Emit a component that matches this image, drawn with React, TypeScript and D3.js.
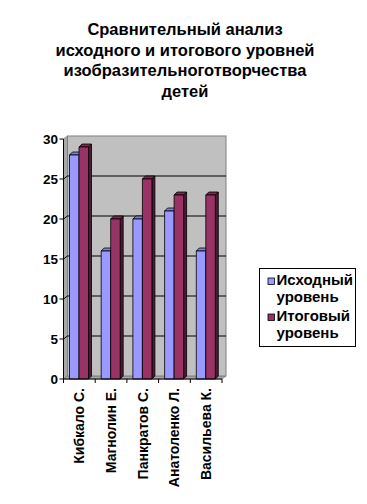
import React from "react";
import * as d3 from "d3";

const categories = ["Кибкало С.", "Магнолин Е.", "Панкратов С.", "Анатоленко Л.", "Васильева К."];
const seriesNames = ["Исходный уровень", "Итоговый уровень"];
const initialLevel = [28, 16, 20, 21, 16];
const finalLevel = [29, 20, 25, 23, 23];
const yTicks = [0, 5, 10, 15, 20, 25, 30];
const titleLines = [
  "Сравнительный анализ",
  "исходного и итогового уровней",
  "изобразительноготворчества",
  "детей",
];

const colors = [
  { front: "#9999FF", top: "#8080e0", side: "#5c5c99" },
  { front: "#993366", top: "#80294f", side: "#4c1933" },
];

export default function App() {
  const W = 367, H = 504;
  const font = "'Liberation Sans', Arial, sans-serif";
  const y = d3.scaleLinear().domain([0, 30]).range([379, 139]);
  const x0 = d3.scaleBand<string>().domain(categories).range([63.5, 222]);
  const x1 = d3.scaleBand<string>().domain(seriesNames).range([6, 25]);
  const dx = 3, dy = -3; // bar depth
  const wx = 4, wy = -3; // wall depth
  const left = 63.5, right = 222;
  const bottom = y(0), top = y(30);
  const data = [initialLevel, finalLevel];

  return (
    <svg width={W} height={H} style={{ position: "absolute", left: 0, top: 0 }} fontFamily={font}>
      <rect width={W} height={H} fill="#fff" />
      {titleLines.map((t, i) => (
        <text key={i} x={185} y={35 + i * 20.5} textAnchor="middle" fontSize={16.5} fontWeight="bold">{t}</text>
      ))}
      {/* side wall */}
      <polygon points={`${left},${top} ${left + wx},${top + wy} ${left + wx},${bottom + wy} ${left},${bottom}`} fill="#a8a8a8" stroke="#808080" strokeWidth={0.8} />
      {/* floor */}
      <polygon points={`${left},${bottom} ${right},${bottom} ${right + wx},${bottom + wy} ${left + wx},${bottom + wy}`} fill="#a8a8a8" stroke="#808080" strokeWidth={0.8} />
      {/* back wall */}
      <rect x={left + wx} y={top + wy} width={right - left} height={bottom - top} fill="#C0C0C0" stroke="#808080" strokeWidth={1} />
      {yTicks.filter(v => v > 0 && v < 30).map(v => (
        <g key={v}>
          <line x1={left} y1={y(v)} x2={left + wx} y2={y(v) + wy} stroke="#000" strokeWidth={1} />
          <line x1={left + wx} y1={y(v) + wy} x2={right + wx} y2={y(v) + wy} stroke="#000" strokeWidth={1} />
        </g>
      ))}
      {/* bars */}
      {categories.map((c, ci) => (
        <g key={c}>
          {seriesNames.map((s, si) => {
            const v = data[si][ci];
            const bx = (x0(c) as number) + (x1(s) as number);
            const w = x1.bandwidth();
            const by = y(v);
            const col = colors[si];
            return (
              <g key={s} stroke="#000" strokeWidth={0.8} strokeLinejoin="round">
                <polygon points={`${bx + w},${by} ${bx + w + dx},${by + dy} ${bx + w + dx},${bottom + dy} ${bx + w},${bottom}`} fill={col.side} />
                <polygon points={`${bx},${by} ${bx + dx},${by + dy} ${bx + w + dx},${by + dy} ${bx + w},${by}`} fill={col.top} />
                <rect x={bx} y={by} width={w} height={bottom - by} fill={col.front} />
              </g>
            );
          })}
        </g>
      ))}
      {/* y axis */}
      <line x1={left} y1={top} x2={left} y2={bottom} stroke="#000" strokeWidth={1} />
      {yTicks.map(v => (
        <g key={v}>
          <line x1={left - 4} y1={y(v)} x2={left} y2={y(v)} stroke="#000" />
          <text x={left - 5.5} y={y(v) + 5} textAnchor="end" fontSize={13.5} fontWeight="bold">{v}</text>
        </g>
      ))}
      {/* x axis */}
      <line x1={left} y1={bottom} x2={right} y2={bottom} stroke="#000" strokeWidth={1} />
      {categories.map((c, i) => (
        <line key={"t" + i} x1={x0(c) as number} y1={bottom} x2={x0(c) as number} y2={bottom + 4} stroke="#000" />
      ))}
      <line x1={right} y1={bottom} x2={right} y2={bottom + 4} stroke="#000" />
      {categories.map(c => {
        const cx = (x0(c) as number) + x0.bandwidth() / 2 + 5;
        return (
          <text key={c} transform={`translate(${cx},${388}) rotate(-90)`} textAnchor="end" fontSize={14} fontWeight="bold">{c}</text>
        );
      })}
      {/* legend */}
      <rect x={259.5} y={268.5} width={96} height={78} fill="#fff" stroke="#000" strokeWidth={1} />
      {seriesNames.map((s, i) => {
        const [a, b] = s.split(" ");
        const base = 285 + i * 36;
        return (
          <g key={s}>
            <rect x={268} y={base - 7} width={6.5} height={6.5} fill={colors[i].front} stroke="#000" strokeWidth={0.8} />
            <text x={276.5} y={base} fontSize={15} fontWeight="bold">{a}</text>
            <text x={276.5} y={base + 17} fontSize={15} fontWeight="bold">{b}</text>
          </g>
        );
      })}
    </svg>
  );
}
